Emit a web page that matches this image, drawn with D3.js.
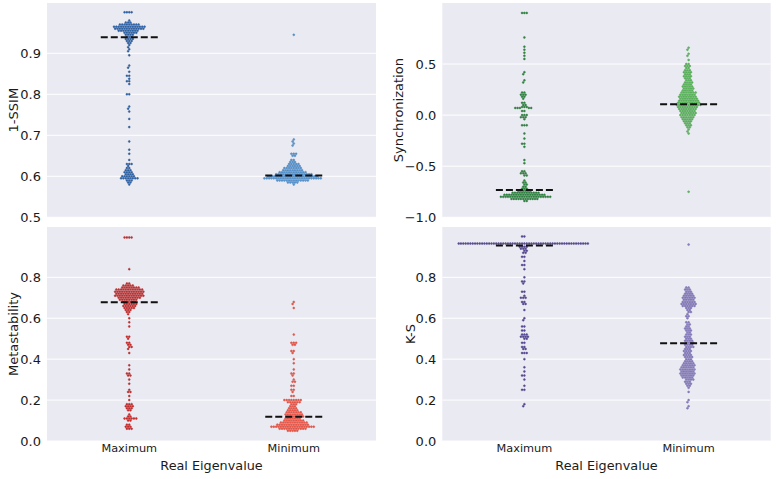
<!DOCTYPE html>
<html><head><meta charset="utf-8">
<script src="https://cdn.jsdelivr.net/npm/d3@7"></script>
<style>
html,body{margin:0;padding:0;background:#fff;}
svg{display:block;font-family:"DejaVu Sans",sans-serif;}
</style></head>
<body>
<svg id="chart" width="778" height="479"></svg>
<script>
// ---------- DATA (value, count) ----------
const categories = ["Maximum", "Minimum"];
const metricNames = ["1-SSIM", "Synchronization", "Metastability", "K-S"];

const ssimMax = [[1.000,4],[0.980,1],[0.975,3],[0.970,9],[0.965,14],[0.960,13],[0.955,9],[0.950,6],[0.945,4],[0.940,3],
  [0.935,4],[0.930,3],[0.925,2],[0.920,1],[0.915,1],[0.910,1],[0.905,1],[0.895,1],[0.870,1],[0.865,1],[0.855,1],[0.845,2],
  [0.838,1],[0.832,2],[0.825,1],[0.800,2],[0.770,1],[0.765,1],[0.758,1],[0.740,1],[0.720,1],[0.685,1],[0.665,1],[0.655,1],
  [0.640,1],[0.630,3],[0.625,1],[0.620,2],[0.615,3],[0.610,4],[0.605,4],[0.600,6],[0.595,8],[0.590,3],[0.585,2],[0.580,1]];
const ssimMin = [[0.945,1],[0.690,1],[0.685,1],[0.680,1],[0.675,1],[0.655,3],[0.650,2],[0.640,2],[0.635,3],[0.630,5],
  [0.625,6],[0.620,8],[0.615,9],[0.610,12],[0.605,16],[0.600,22],[0.595,25],[0.590,14],[0.585,5],[0.580,1]];

const syncMax = [[1.00,3],[0.76,1],[0.67,1],[0.64,1],[0.61,1],[0.58,1],[0.55,1],[0.42,1],[0.40,1],[0.34,1],[0.32,1],
  [0.22,2],[0.20,3],[0.18,2],[0.16,1],[0.12,2],[0.10,2],[0.08,3],[0.07,5],[0.04,2],[0.00,3],[-0.02,3],[-0.04,1],[-0.10,3],
  [-0.18,1],[-0.23,1],[-0.28,2],[-0.31,1],[-0.44,1],[-0.47,1],[-0.55,2],[-0.57,3],[-0.59,2],[-0.64,1],[-0.66,2],[-0.68,2],
  [-0.70,2],[-0.72,3],[-0.74,6],[-0.76,12],[-0.78,18],[-0.80,22],[-0.82,12],[-0.84,2]];
const syncMin = [[0.66,1],[0.64,1],[0.60,1],[0.58,1],[0.54,1],[0.50,2],[0.48,3],[0.46,2],[0.44,3],[0.42,4],[0.40,3],
  [0.38,4],[0.36,3],[0.34,3],[0.32,4],[0.30,4],[0.28,5],[0.26,5],[0.24,5],[0.22,7],[0.20,7],[0.18,8],[0.16,8],[0.14,9],
  [0.12,10],[0.10,11],[0.08,9],[0.06,8],[0.04,7],[0.02,7],[0.00,7],[-0.02,6],[-0.04,5],[-0.06,4],[-0.08,3],[-0.10,3],
  [-0.12,2],[-0.14,1],[-0.16,1],[-0.18,1],[-0.75,1]];

const metaMax = [[0.995,4],[0.84,1],[0.77,2],[0.76,5],[0.75,8],[0.74,12],[0.73,13],[0.72,12],[0.71,13],[0.70,10],[0.69,8],
  [0.68,6],[0.67,6],[0.66,6],[0.65,5],[0.64,3],[0.63,2],[0.62,1],[0.60,1],[0.58,1],[0.56,1],[0.51,2],[0.50,1],[0.48,2],
  [0.47,2],[0.46,2],[0.45,1],[0.43,1],[0.37,1],[0.35,1],[0.33,2],[0.32,2],[0.30,1],[0.28,1],[0.25,1],[0.24,2],[0.22,1],
  [0.20,1],[0.18,3],[0.17,4],[0.16,3],[0.15,2],[0.13,1],[0.12,2],[0.11,6],[0.10,2],[0.08,2],[0.07,3],[0.06,3]];
const metaMin = [[0.68,1],[0.67,1],[0.65,1],[0.52,1],[0.48,3],[0.47,2],[0.44,2],[0.43,1],[0.40,1],[0.38,1],[0.35,1],
  [0.33,2],[0.32,1],[0.30,1],[0.29,2],[0.27,2],[0.25,2],[0.24,1],[0.22,2],[0.20,8],[0.19,6],[0.18,3],[0.17,3],[0.16,4],
  [0.15,5],[0.14,7],[0.13,8],[0.12,8],[0.11,7],[0.10,9],[0.09,12],[0.08,14],[0.07,19],[0.06,12],[0.05,5]];

const ksMax = [[1.000,2],[0.965,56],[0.95,4],[0.94,3],[0.93,2],[0.92,2],[0.90,2],[0.88,1],[0.86,2],[0.84,1],[0.80,1],
  [0.78,2],[0.77,1],[0.73,2],[0.71,1],[0.70,3],[0.68,2],[0.67,2],[0.64,1],[0.60,1],[0.59,1],[0.56,2],[0.54,2],[0.52,3],
  [0.51,4],[0.50,2],[0.48,2],[0.46,2],[0.45,2],[0.43,3],[0.40,1],[0.36,1],[0.34,1],[0.32,2],[0.30,1],[0.27,1],[0.25,2],
  [0.18,1],[0.17,1]];
const ksMin = [[0.96,1],[0.75,2],[0.74,3],[0.73,3],[0.72,4],[0.71,5],[0.70,6],[0.69,5],[0.68,6],[0.67,7],[0.66,6],[0.65,3],
  [0.64,2],[0.63,2],[0.62,1],[0.61,2],[0.60,1],[0.58,2],[0.57,2],[0.56,2],[0.55,3],[0.54,3],[0.53,2],[0.52,3],[0.51,3],
  [0.50,3],[0.49,4],[0.48,4],[0.47,4],[0.46,4],[0.45,3],[0.44,4],[0.43,3],[0.42,4],[0.41,4],[0.40,3],[0.39,4],[0.38,5],
  [0.37,6],[0.36,6],[0.35,7],[0.34,6],[0.33,7],[0.32,6],[0.31,5],[0.30,4],[0.29,3],[0.28,3],[0.27,2],[0.26,1],[0.24,1],
  [0.20,1],[0.19,1],[0.17,1],[0.16,1]];

const mediansSSIM = [0.939, 0.602];
const mediansSync = [-0.733, 0.106];
const mediansMeta = [0.678, 0.119];
const mediansKS = [0.956, 0.478];

const ticksSSIM = [0.5, 0.6, 0.7, 0.8, 0.9];
const ticksSync = [-1.0, -0.5, 0.0, 0.5];
const ticksMeta = [0.0, 0.2, 0.4, 0.6, 0.8];
const ticksKS = [0.0, 0.2, 0.4, 0.6, 0.8];

// ---------- LAYOUT ----------
const panels = [
  {name: metricNames[0], groups: [ssimMax, ssimMin], med: mediansSSIM, ticks: ticksSSIM, domain: [0.5, 1.0227],
   x0: 47, x1: 376, y0: 3, y1: 217.3, labelX: 13.5, colors: ["#2f68b2", "#5a9ad6"], strokes: ["#1b4478", "#2f6aa6"], bottom: false},
  {name: metricNames[1], groups: [syncMax, syncMin], med: mediansSync, ticks: ticksSync, domain: [-1.0, 1.097],
   x0: 442.3, x1: 770.7, y0: 3, y1: 217.3, labelX: 398.5, colors: ["#2f8c43", "#5cbc5c"], strokes: ["#1c5e2a", "#368a3a"], bottom: false},
  {name: metricNames[2], groups: [metaMax, metaMin], med: mediansMeta, ticks: ticksMeta, domain: [0, 1.046],
   x0: 47, x1: 376, y0: 227, y1: 441, labelX: 13.5, colors: ["#d62d2d", "#f25a4a"], strokes: ["#961818", "#c0362c"], bottom: true},
  {name: metricNames[3], groups: [ksMax, ksMin], med: mediansKS, ticks: ticksKS, domain: [0, 1.046],
   x0: 442.3, x1: 770.7, y0: 227, y1: 441, labelX: 410, colors: ["#5b4b9c", "#8c82c4"], strokes: ["#3a2d70", "#5c5296"], bottom: true}
];

const svg = d3.select("#chart");
const fmt = d => (d < 0 ? "\u2212" : "") + Math.abs(d).toFixed(1);

function expand(pairs) {
  const out = [];
  pairs.forEach(([v, c]) => { for (let i = 0; i < c; i++) out.push(v); });
  return out;
}

function swarm(vals, y, d, maxHalf) {
  const pts = vals.map(v => ({v, y: y(v)})).sort((a, b) => a.y - b.y);
  const placed = [];
  for (const p of pts) {
    const nb = placed.filter(q => Math.abs(q.y - p.y) < d);
    const cands = [0];
    for (const q of nb) {
      const dx = Math.sqrt(d * d - (q.y - p.y) ** 2);
      cands.push(q.x - dx, q.x + dx);
    }
    cands.sort((a, b) => Math.abs(a) - Math.abs(b));
    let x = cands.find(c => nb.every(q => (q.x - c) ** 2 + (q.y - p.y) ** 2 >= d * d - 1e-6));
    if (x === undefined) x = 0;
    if (Math.abs(x) > maxHalf) x = Math.sign(x) * maxHalf;
    p.x = x;
    placed.push(p);
  }
  return pts;
}

panels.forEach(P => {
  const g = svg.append("g");
  const x = d3.scaleBand().domain(categories).range([P.x0, P.x1]);
  const y = d3.scaleLinear().domain(P.domain).range([P.y1, P.y0]);

  g.append("rect").attr("x", P.x0).attr("y", P.y0).attr("width", P.x1 - P.x0).attr("height", P.y1 - P.y0)
    .attr("fill", "#eaeaf2");

  // grid
  g.selectAll("line.grid").data(P.ticks).join("line")
    .attr("x1", P.x0).attr("x2", P.x1).attr("y1", d => y(d)).attr("y2", d => y(d))
    .attr("stroke", "#ffffff").attr("stroke-width", 1);

  // y axis
  const ay = g.append("g").attr("transform", `translate(${P.x0},0)`)
    .call(d3.axisLeft(y).tickValues(P.ticks).tickFormat(fmt).tickSize(0).tickPadding(6));
  ay.select(".domain").remove();
  ay.selectAll("text").attr("font-size", 13).attr("fill", "#1a1a1a").attr("font-family", "DejaVu Sans");

  g.append("text").attr("transform", `translate(${P.labelX},${(P.y0 + P.y1) / 2}) rotate(-90)`)
    .attr("text-anchor", "middle").attr("dominant-baseline", "central")
    .attr("font-size", 13).attr("fill", "#1a1a1a").text(P.name);

  if (P.bottom) {
    const ax = g.append("g").attr("transform", `translate(0,${P.y1})`)
      .call(d3.axisBottom(x).tickSize(0).tickPadding(3));
    ax.select(".domain").remove();
    ax.selectAll("text").attr("font-size", 11.3).attr("fill", "#1a1a1a").attr("font-family", "DejaVu Sans");
    g.append("text").attr("x", (P.x0 + P.x1) / 2).attr("y", 469.5).attr("text-anchor", "middle")
      .attr("font-size", 12.8).attr("fill", "#1a1a1a").text("Real Eigenvalue");
  }

  const half = x.bandwidth() * 0.4;
  P.groups.forEach((grp, gi) => {
    const cx = x(categories[gi]) + x.bandwidth() / 2;
    const pts = swarm(expand(grp), y, 2.35, half);
    g.append("g").selectAll("circle").data(pts).join("circle")
      .attr("cx", d => cx + d.x).attr("cy", d => d.y).attr("r", 1.0)
      .attr("fill", P.colors[gi]).attr("stroke", P.strokes[gi]).attr("stroke-width", 0.35);
  });

  // median dashed lines
  P.med.forEach((m, gi) => {
    const cx = x(categories[gi]) + x.bandwidth() / 2;
    g.append("line").attr("x1", cx - 28.5).attr("x2", cx + 28.5).attr("y1", y(m)).attr("y2", y(m))
      .attr("stroke", "#111").attr("stroke-width", 2).attr("stroke-dasharray", "7,3");
  });
});
</script>
</body></html>
